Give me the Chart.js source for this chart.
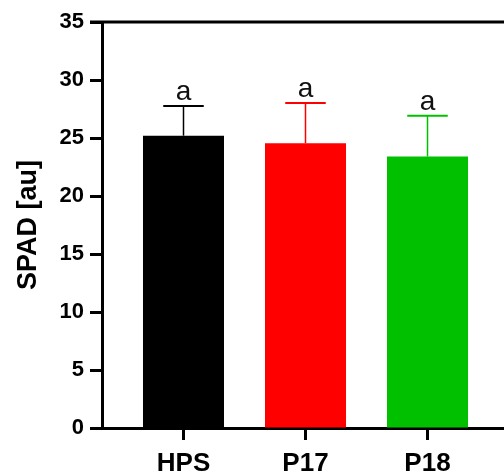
<!DOCTYPE html>
<html>
<head>
<meta charset="utf-8">
<script src="https://cdn.jsdelivr.net/npm/chart.js@4/dist/chart.umd.min.js"></script>
<style>
  html, body { margin: 0; padding: 0; background: #fff; overflow: hidden; }
  #wrap { width: 504px; height: 472px; }
</style>
</head>
<body>
<div id="wrap"><canvas id="spad"></canvas></div>
<script>
// values
var groups = ["HPS", "P17", "P18"];
var means = [25.2, 24.55, 23.4];
var sds = [2.56, 3.47, 3.52];
var letters = ["a", "a", "a"];
var colors = ["#000000", "#ff0000", "#00c000"];
var yTicks = [0, 5, 10, 15, 20, 25, 30, 35];

var FONT = "'Liberation Sans', Arial, sans-serif";

window.addEventListener('load', function(event){
	var points = [];
	for (var i = 0; i < groups.length; i++) {
		points.push({x: i, y: means[i]});
	}

	// error bars (upper only) + letter above each one, and the top frame line
	var errorPlugin = {
		id: 'errorbars',
		afterDatasetsDraw: function(chart) {
			var ctx = chart.ctx;
			var xs = chart.scales.x;
			var ys = chart.scales.y;
			var meta = chart.getDatasetMeta(0);
			var area = chart.chartArea;
			ctx.save();
			ctx.strokeStyle = '#000';
			ctx.lineWidth = 3;
			ctx.beginPath();
			ctx.moveTo(area.left - 12, ys.getPixelForValue(35));
			ctx.lineTo(area.right, ys.getPixelForValue(35));
			ctx.stroke();
			for (var i = 0; i < groups.length; i++) {
				var bar = meta.data[i];
				var cx = xs.getPixelForValue(i);
				var yTop = ys.getPixelForValue(means[i]);
				var yErr = ys.getPixelForValue(means[i] + sds[i]);
				var half = bar.width / 4;
				ctx.strokeStyle = colors[i];
				ctx.lineWidth = 1.5;
				ctx.beginPath();
				ctx.moveTo(cx, yTop);
				ctx.lineTo(cx, yErr);
				ctx.stroke();
				ctx.lineWidth = 2;
				ctx.beginPath();
				ctx.moveTo(cx - half, yErr);
				ctx.lineTo(cx + half, yErr);
				ctx.stroke();

				ctx.fillStyle = "#111";
				ctx.font = "28px " + FONT;
				ctx.textAlign = "center";
				ctx.textBaseline = "alphabetic";
				ctx.fillText(letters[i], cx, yErr - 6);
			}
			ctx.restore();
		}
	};

	var context = document.getElementById('spad').getContext('2d');
	var chart = new Chart(context, {
		type: 'bar',
		data: {
			datasets: [{
				data: points,
				backgroundColor: colors,
				borderWidth: 0,
				categoryPercentage: 1,
				barPercentage: 0.664
			}]
		},
		options: {
			responsive: true,
			maintainAspectRatio: false,
			animation: false,
			layout: { padding: { top: 22, right: 0, left: 0, bottom: 0 } },
			plugins: {
				legend: { display: false },
				tooltip: { enabled: false }
			},
			scales: {
				x: {
					type: 'linear',
					offset: false,
					min: -0.668,
					max: 2.627,
					afterBuildTicks: function(scale) {
						scale.ticks = groups.map(function(g, i){ return {value: i}; });
					},
					afterFit: function(scale) { scale.height = 44; },
					grid: {
						offset: false,
						drawOnChartArea: false,
						drawTicks: true,
						tickLength: 12,
						tickWidth: 3,
						tickColor: '#000'
					},
					border: { display: true, color: '#000', width: 3 },
					ticks: {
						padding: 8,
						color: '#000',
						font: { family: FONT, size: 26, weight: 'bold' },
						callback: function(v) { return groups[v] || ''; }
					}
				},
				y: {
					min: 0,
					max: 35,
					afterBuildTicks: function(scale) {
						scale.ticks = yTicks.map(function(v){ return {value: v}; });
					},
					afterFit: function(scale) { scale.width = 102; },
					grid: {
						drawOnChartArea: false,
						drawTicks: true,
						tickLength: 12,
						tickWidth: 3,
						tickColor: '#000'
					},
					border: { display: true, color: '#000', width: 3 },
					ticks: {
						padding: 6,
						color: '#000',
						font: { family: FONT, size: 22, weight: 'bold' }
					},
					title: {
						display: true,
						text: 'SPAD [au]',
						color: '#000',
						padding: { top: 12, bottom: 0 },
						font: { family: FONT, size: 27, weight: 'bold' }
					}
				}
			}
		},
		plugins: [errorPlugin]
	});
});
</script>
</body>
</html>
